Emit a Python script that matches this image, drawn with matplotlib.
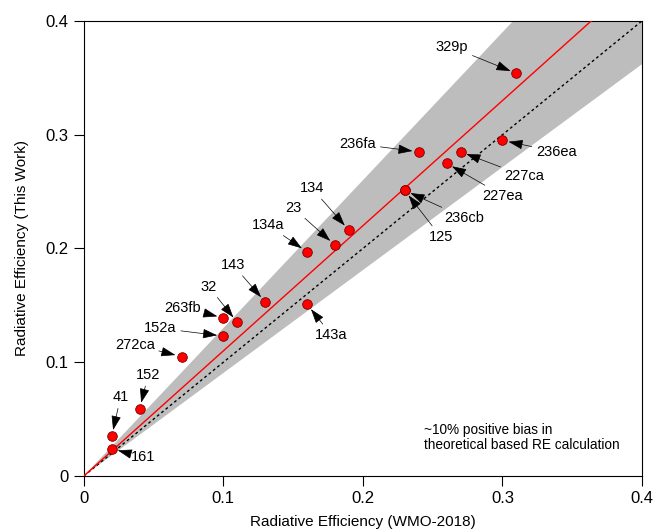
import numpy as np
import matplotlib.pyplot as plt
from matplotlib.ticker import FuncFormatter

# data
names = ['329p', '236fa', '236ea', '227ca', '227ea', '236cb', '125', '134', '23',
         '134a', '143', '143a', '32', '263fb', '152a', '272ca', '152', '41', '161']
re_wmo = [0.31, 0.24, 0.30, 0.27, 0.26, 0.23, 0.23, 0.19, 0.18,
          0.16, 0.13, 0.16, 0.11, 0.10, 0.10, 0.07, 0.04, 0.02, 0.02]
re_this = [0.354, 0.285, 0.295, 0.285, 0.275, 0.251, 0.251, 0.216, 0.203,
           0.197, 0.153, 0.151, 0.135, 0.139, 0.123, 0.105, 0.059, 0.035, 0.024]
# label positions (data coords)
lab_x = [0.264, 0.1965, 0.3386, 0.3159, 0.3004, 0.2729, 0.2557, 0.1636, 0.1499,
         0.132, 0.107, 0.1774, 0.0895, 0.0711, 0.0549, 0.0365, 0.0461, 0.0263, 0.0425]
lab_y = [0.3769, 0.2919, 0.2851, 0.2637, 0.2464, 0.2271, 0.2104, 0.2529, 0.2359,
         0.2207, 0.1855, 0.124, 0.1665, 0.148, 0.1298, 0.1152, 0.0888, 0.0692, 0.0164]

fit_slope = 1.1
band_lo, band_hi = 0.905, 1.30

fig = plt.figure(figsize=(6.55, 5.32), dpi=100)
ax = fig.add_axes([0.128, 0.1053, 0.852, 0.8552])

xx = np.array([0, 0.4])
ax.fill_between(xx, band_lo * xx, band_hi * xx, color='#bdbdbd', lw=0, zorder=1)
ax.plot(xx, xx, color='black', lw=1.0, ls=(0, (2, 2)), zorder=2)
ax.plot(xx, fit_slope * xx, color='red', lw=1.0, zorder=3)
ax.scatter(re_wmo, re_this, s=48, color='red', edgecolor='#7a0000', lw=0.6, zorder=5)

for n, x, y, tx, ty in zip(names, re_wmo, re_this, lab_x, lab_y):
    ax.annotate(n, xy=(x, y), xytext=(tx, ty), ha='center', va='center',
                fontsize=10.5, family='Liberation Sans',
                arrowprops=dict(arrowstyle='-|>,head_length=0.9,head_width=0.3',
                                color='black', lw=0.5, shrinkA=1, shrinkB=4.5,
                                mutation_scale=10),
                zorder=6)

ax.text(0.2436, 0.0338, '~10% positive bias in\ntheoretical based RE calculation',
        fontsize=9.8, family='Liberation Sans', va='center', ha='left', linespacing=1.1)

ax.set_xlim(0, 0.4)
ax.set_ylim(0, 0.4)
ticks = [0, 0.1, 0.2, 0.3, 0.4]
ax.set_xticks(ticks)
ax.set_yticks(ticks)
fmt = FuncFormatter(lambda v, p: '0' if v == 0 else f'{v:.1f}')
ax.xaxis.set_major_formatter(fmt)
ax.yaxis.set_major_formatter(fmt)
ax.tick_params(direction='out', length=7, width=0.8, labelsize=12, pad=4)
for lab in ax.get_xticklabels() + ax.get_yticklabels():
    lab.set_family('Liberation Sans')
for sp in ax.spines.values():
    sp.set_linewidth(0.8)

ax.set_xlabel('Radiative Efficiency (WMO-2018)', fontsize=11, family='Liberation Sans', labelpad=6)
ax.set_ylabel('Radiative Efficiency (This Work)', fontsize=11, family='Liberation Sans', labelpad=12)

fig.savefig('out.png', dpi=100)
